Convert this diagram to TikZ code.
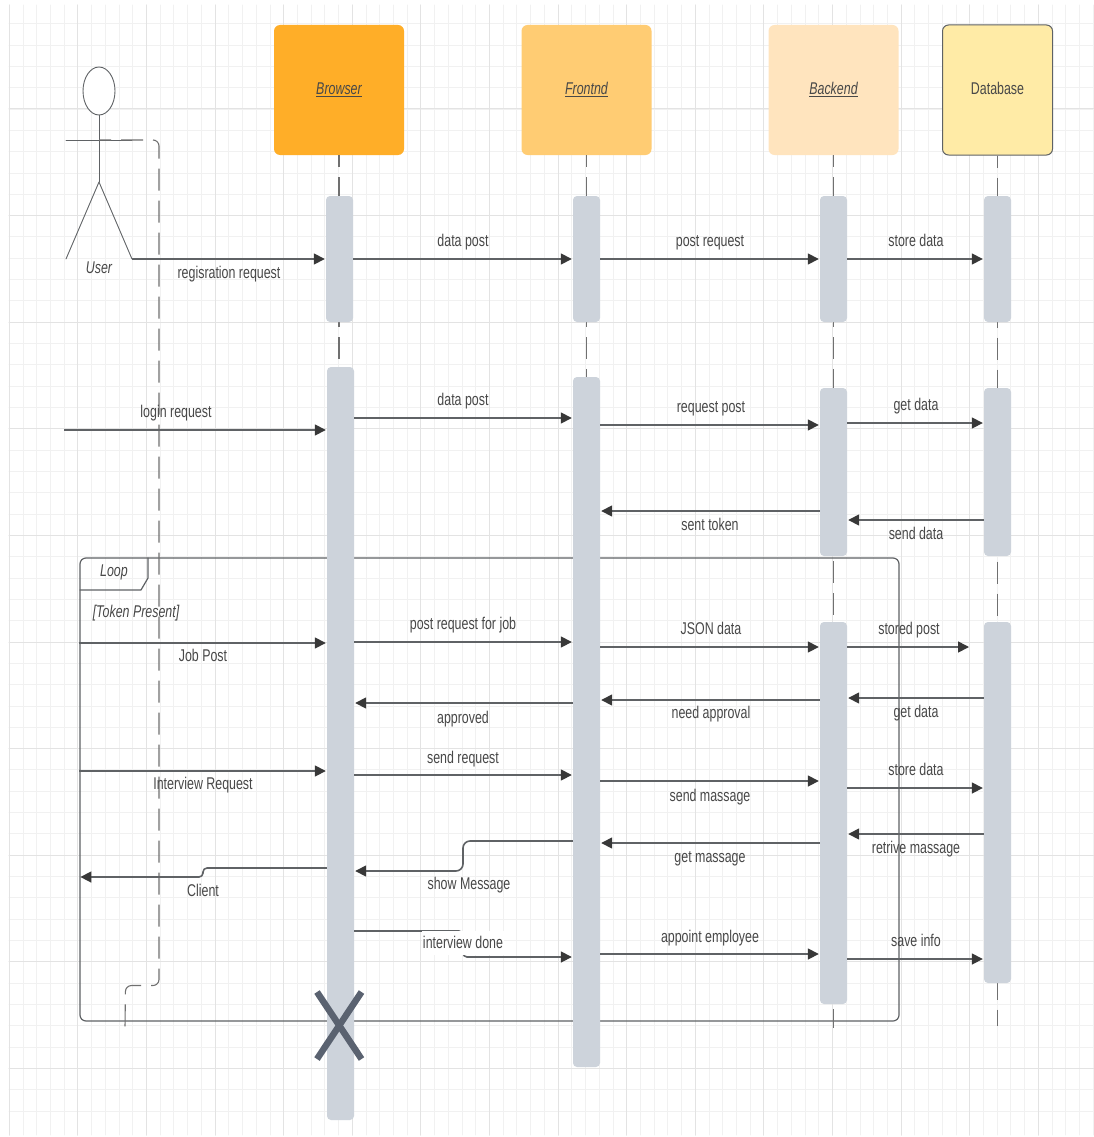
\documentclass[tikz,border=0pt]{standalone}
\usepackage{fontspec}
\setmainfont[FakeStretch=0.73]{Liberation Sans}
\usepackage{xcolor}
\usetikzlibrary{arrows.meta,positioning,shapes.geometric}
\definecolor{ink}{HTML}{484848}
\definecolor{wire}{HTML}{5F6265}
\definecolor{tipink}{HTML}{383838}
\definecolor{dashink}{HTML}{707070}
\definecolor{barfill}{HTML}{CDD3DB}
\definecolor{crossink}{HTML}{5A6270}
\definecolor{gridminor}{HTML}{F1F1F1}
\definecolor{gridmajor}{HTML}{E3E3E3}
\definecolor{headA}{HTML}{FFAE28}
\definecolor{headB}{HTML}{FFCC73}
\definecolor{headC}{HTML}{FFE4BE}
\definecolor{headD}{HTML}{FFEBA6}
\tikzset{
  HeadBox/.style={
    rectangle, rounded corners=6pt, inner sep=0pt,
    minimum width=130pt, minimum height=130pt,
    text height=13pt, text depth=3pt,
    text=ink, font=\fontsize{17}{20}\selectfont
  },
  LifeBar/.style={
    rectangle, rounded corners=4pt, inner sep=0pt,
    fill=barfill, draw=none, minimum width=27pt
  },
  LifeLine/.style={draw=dashink, line width=1.1pt, line cap=butt,
    dash pattern=on 22pt off 10pt, dash phase=10pt},
  MsgArrow/.style={
    draw=wire, line width=1.6pt, line cap=butt, shorten >=1pt,
    -{Triangle[length=11pt,width=11pt,color=tipink]}
  },
  MsgLabel/.style={text=ink, inner sep=1pt, text height=13pt, text depth=3pt,
    font=\fontsize{17}{20}\selectfont},
  NoteLabel/.style={MsgLabel, font=\fontsize{17}{20}\selectfont\itshape}
}
\begin{document}
\begin{tikzpicture}[x=1pt, y=-1pt, line cap=round, line join=round]
  \useasboundingbox (0,0) rectangle (1094,1137);
  \fill[white] (0,0) rectangle (1094,1137);

  % grid
  \foreach \i in {0,...,79}{
    \pgfmathsetmacro{\gx}{9.3+13.72*\i}
    \draw[gridminor, line width=0.9pt] (\gx,5) -- (\gx,1135);
  }
  \foreach \i in {1,...,52}{
    \pgfmathsetmacro{\gy}{2.4+21.32*\i}
    \draw[gridminor, line width=0.9pt] (9,\gy) -- (1094,\gy);
  }
  \foreach \i in {0,...,15}{
    \pgfmathsetmacro{\gx}{9.3+68.6*\i}
    \draw[gridmajor, line width=1pt] (\gx,5) -- (\gx,1135);
  }
  \foreach \i in {1,...,10}{
    \pgfmathsetmacro{\gy}{2.4+106.6*\i}
    \draw[gridmajor, line width=1pt] (9,\gy) -- (1094,\gy);
  }

  % loop frame
  \node[draw=wire, line width=1.2pt, rounded corners=6pt, minimum width=819pt,
        minimum height=463pt, inner sep=0pt] (LoopFrame) at (489.5,789.5) {};
  \coordinate (TagTop) at (148,558);
  \coordinate (TagLeft) at (80,590);
  \draw[wire, line width=1.2pt] (TagTop) -- (148,578) -- (141,590) -- (TagLeft);
  \node[NoteLabel] (LoopTag) at (114,571) {Loop};
  \node[NoteLabel] (LoopGuard) at (136,612) {[Token Present]};

  % heads
  \node[HeadBox, fill=headA] (Browser) at (339,90) {\textit{\underline{Browser}}};
  \node[HeadBox, fill=headB] (Frontnd) at (586.5,90) {\textit{\underline{Frontnd}}};
  \node[HeadBox, fill=headC] (Backend) at (833.5,90) {\textit{\underline{Backend}}};
  \node[HeadBox, minimum width=110pt, fill=headD, draw=wire, line width=1pt] (Database) at (997.5,90) {Database};

  % lifelines
  \coordinate (BrEnd) at (339,1060);
  \coordinate (FrEnd) at (586.5,1060);
  \coordinate (BeEnd) at (833.5,1028);
  \coordinate (DbEnd) at (997.5,1026);
  \draw[LifeLine] (Browser.south) -- (BrEnd);
  \draw[LifeLine] (Frontnd.south) -- (FrEnd);
  \draw[LifeLine] (Backend.south) -- (BeEnd);
  \draw[LifeLine] (Database.south) -- (DbEnd);

  % activation bars
  \node[LifeBar, minimum height=126pt] (BrA) at (339.5,259) {};
  \node[LifeBar, minimum height=753pt] (BrB) at (340.5,743.5) {};
  \node[LifeBar, minimum height=126pt] (FrA) at (586.5,259) {};
  \node[LifeBar, minimum height=690pt] (FrB) at (586.5,722) {};
  \node[LifeBar, minimum height=126pt] (BeA) at (833.5,259) {};
  \node[LifeBar, minimum height=168pt] (BeB) at (833.5,472) {};
  \node[LifeBar, minimum height=382pt] (BeC) at (833.5,813) {};
  \node[LifeBar, minimum height=126pt] (DbA) at (997.5,259) {};
  \node[LifeBar, minimum height=168pt] (DbB) at (997.5,472) {};
  \node[LifeBar, minimum height=361pt] (DbC) at (997.5,802.5) {};

  % actor
  \node[draw=wire, line width=0.9pt, ellipse, minimum width=32pt, minimum height=48pt,
        inner sep=0pt, fill=white] (UserHead) at (99,91) {};
  \coordinate (Hip) at (99,182);
  \coordinate (ArmL) at (66,140);
  \coordinate (ArmR) at (132,140);
  \coordinate (FootL) at (66,259);
  \coordinate (FootR) at (132,259);
  \draw[wire, line width=0.9pt] (UserHead.south) -- (Hip);
  \draw[wire, line width=0.9pt] (ArmL) -- (ArmR);
  \draw[wire, line width=0.9pt] (FootL) -- (Hip) -- (FootR);
  \node[NoteLabel] (UserName) at (99,268) {User};
  \coordinate (UserEnd) at (125,1028);
  \draw[LifeLine, rounded corners=6pt] (99,140) -- (159,140) -- (159,985.5) -- (125.5,985.5) -- (UserEnd);

  % first block
  \draw[MsgArrow] (FootR) -- (BrA.west |- 0,259);
  \draw[MsgArrow] (BrA.east |- 0,259) -- (FrA.west |- 0,259);
  \draw[MsgArrow] (FrA.east |- 0,259) -- (BeA.west |- 0,259);
  \draw[MsgArrow] (BeA.east |- 0,259) -- (DbA.west |- 0,259);
  \node[MsgLabel] (LblReg) at (229,273) {regisration request};
  \node[MsgLabel] (LblDataA) at (463,241) {data post};
  \node[MsgLabel] (LblPost) at (710,241) {post request};
  \node[MsgLabel] (LblStoreA) at (916,241) {store data};

  % second block
  \coordinate (LoginEnd) at (64,430);
  \draw[MsgArrow] (LoginEnd) -- (BrB.west |- 0,430);
  \draw[MsgArrow] (BrB.east |- 0,418) -- (FrB.west |- 0,418);
  \draw[MsgArrow] (FrB.east |- 0,425) -- (BeB.west |- 0,425);
  \draw[MsgArrow] (BeB.east |- 0,423) -- (DbB.west |- 0,423);
  \draw[MsgArrow] (BeB.west |- 0,511) -- (FrB.east |- 0,511);
  \draw[MsgArrow] (DbB.west |- 0,520) -- (BeB.east |- 0,520);
  \node[MsgLabel] (LblLogin) at (176,412) {login request};
  \node[MsgLabel] (LblDataB) at (463,400) {data post};
  \node[MsgLabel] (LblReqPost) at (711,407) {request post};
  \node[MsgLabel] (LblGetA) at (916,405) {get data};
  \node[MsgLabel] (LblToken) at (710,525) {sent token};
  \node[MsgLabel] (LblSend) at (916,534) {send data};

  % inside the loop
  \coordinate (StoredEnd) at (970,647);
  \draw[MsgArrow] (LoopFrame.west |- 0,643) -- (BrB.west |- 0,643);
  \draw[MsgArrow] (BrB.east |- 0,642) -- (FrB.west |- 0,642);
  \draw[MsgArrow] (FrB.east |- 0,647) -- (BeC.west |- 0,647);
  \draw[MsgArrow] (BeC.east |- 0,647) -- (StoredEnd);
  \draw[MsgArrow] (FrB.west |- 0,703) -- (BrB.east |- 0,703);
  \draw[MsgArrow] (BeC.west |- 0,700) -- (FrB.east |- 0,700);
  \draw[MsgArrow] (DbC.west |- 0,698) -- (BeC.east |- 0,698);
  \node[MsgLabel] (LblJob) at (203,656) {Job Post};
  \node[MsgLabel] (LblForJob) at (463,624) {post request for job};
  \node[MsgLabel] (LblJson) at (711,629) {JSON data};
  \node[MsgLabel] (LblStored) at (909,629) {stored post};
  \node[MsgLabel] (LblApproved) at (463,718) {approved};
  \node[MsgLabel] (LblNeed) at (711,713) {need approval};
  \node[MsgLabel] (LblGetB) at (916,712) {get data};

  \draw[MsgArrow] (LoopFrame.west |- 0,771) -- (BrB.west |- 0,771);
  \draw[MsgArrow] (BrB.east |- 0,775) -- (FrB.west |- 0,775);
  \draw[MsgArrow] (FrB.east |- 0,781) -- (BeC.west |- 0,781);
  \draw[MsgArrow] (BeC.east |- 0,788) -- (DbC.west |- 0,788);
  \node[MsgLabel] (LblInterview) at (203,784) {Interview Request};
  \node[MsgLabel] (LblSendReq) at (463,758) {send request};
  \node[MsgLabel] (LblMassage) at (710,796) {send massage};
  \node[MsgLabel] (LblStoreB) at (916,770) {store data};

  \draw[MsgArrow] (DbC.west |- 0,834) -- (BeC.east |- 0,834);
  \draw[MsgArrow] (BeC.west |- 0,843) -- (FrB.east |- 0,843);
  \draw[MsgArrow, rounded corners=7pt] (FrB.west |- 0,841) -- (463,841) -- (463,871) -- (BrB.east |- 0,871);
  \draw[MsgArrow, rounded corners=4pt] (BrB.west |- 0,868) -- (203,868) -- (203,877) -- (LoopFrame.west |- 0,877);
  \node[MsgLabel] (LblRetrive) at (916,848) {retrive massage};
  \node[MsgLabel] (LblGetMsg) at (710,857) {get massage};
  \node[MsgLabel] (LblShow) at (469,884) {show Message};
  \node[MsgLabel] (LblClient) at (203,891) {Client};

  \draw[MsgArrow, rounded corners=4pt] (BrB.east |- 0,931) -- (463,931) -- (463,957) -- (FrB.west |- 0,957);
  \draw[MsgArrow] (FrB.east |- 0,954) -- (BeC.west |- 0,954);
  \draw[MsgArrow] (BeC.east |- 0,959) -- (DbC.west |- 0,959);
  \node[MsgLabel, fill=white, minimum height=24pt] (LblDone) at (463,943) {interview done};
  \node[MsgLabel] (LblAppoint) at (710,937) {appoint employee};
  \node[MsgLabel] (LblSave) at (916,941) {save info};

  % end of the browser line
  \coordinate (CrossA) at (317,992);
  \coordinate (CrossB) at (361.5,1059);
  \coordinate (CrossC) at (361.5,992);
  \coordinate (CrossD) at (317,1059);
  \draw[crossink, line width=6.5pt, line cap=butt] (CrossA) -- (CrossB);
  \draw[crossink, line width=6.5pt, line cap=butt] (CrossC) -- (CrossD);
\end{tikzpicture}
\end{document}
